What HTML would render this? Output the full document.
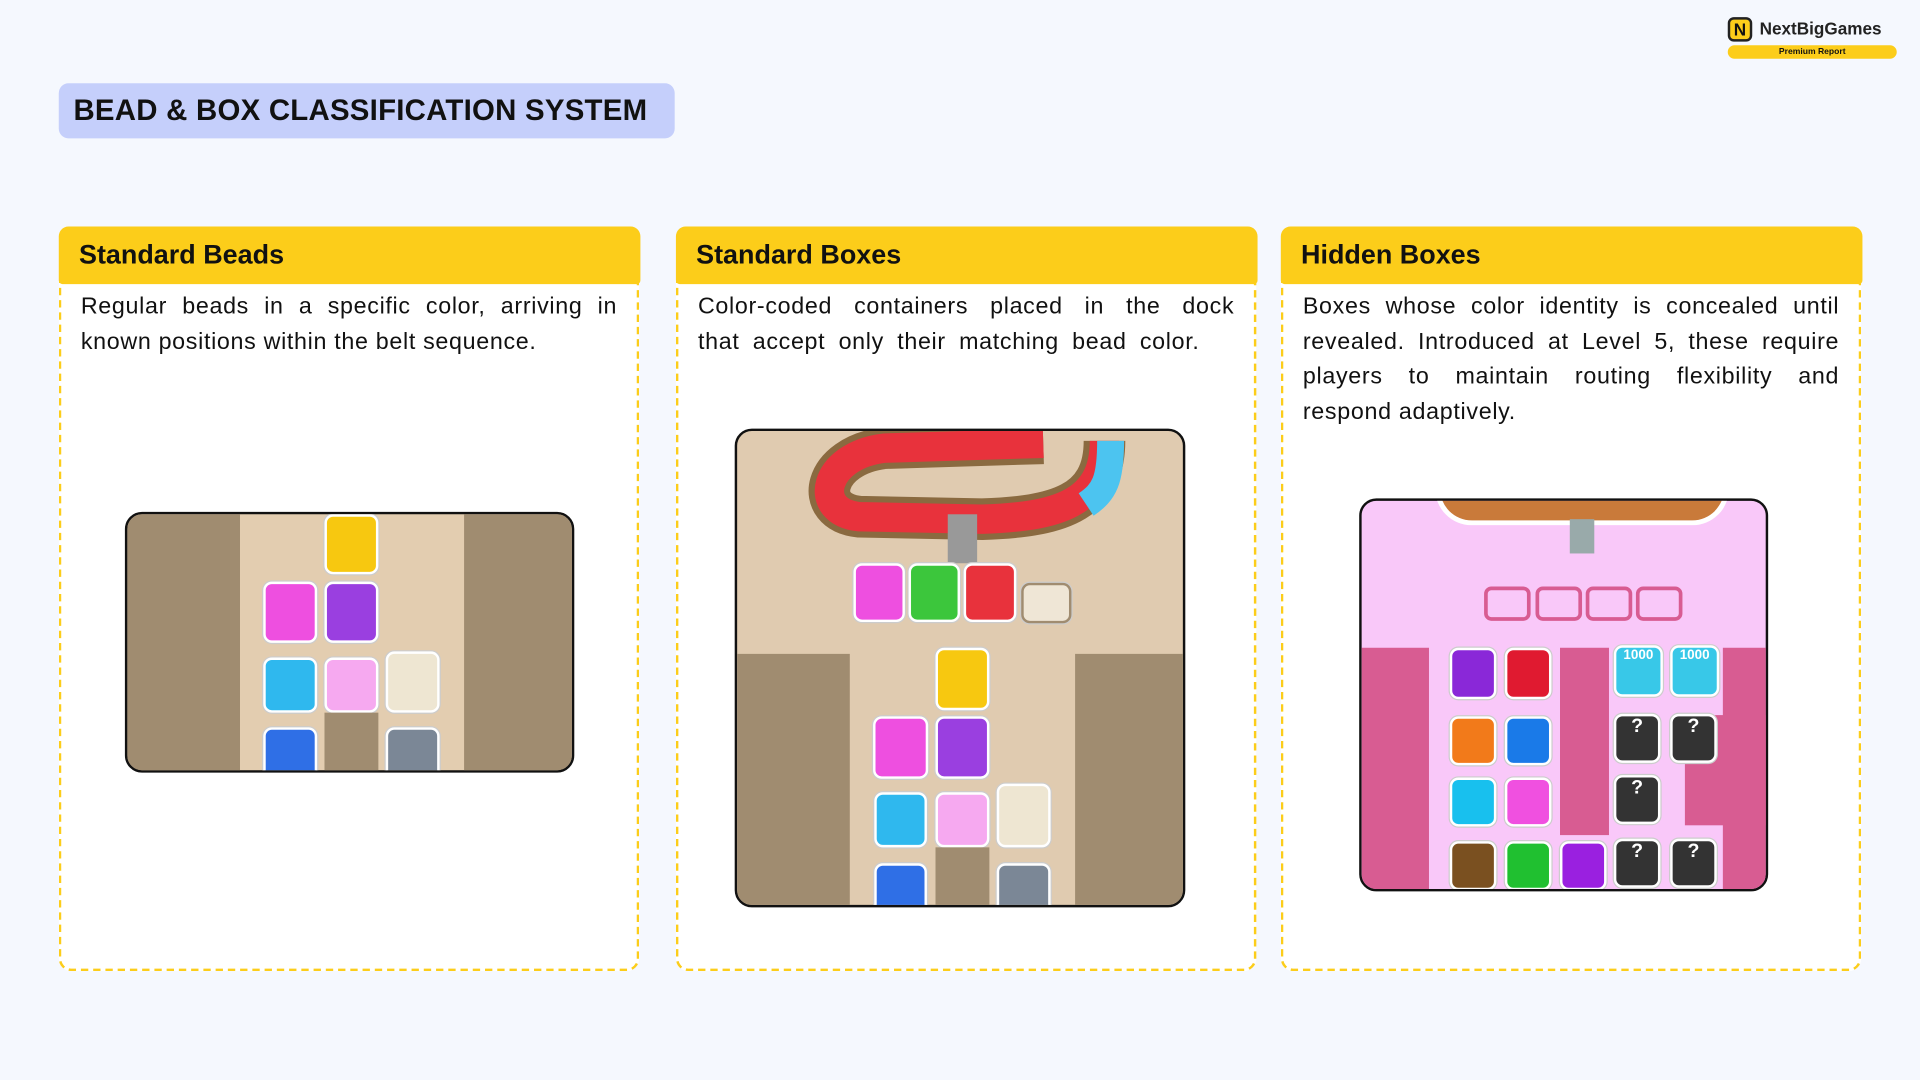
<!DOCTYPE html>
<html><head><meta charset="utf-8"><style>
*{box-sizing:border-box;margin:0;padding:0}
html,body{width:1920px;height:1080px;overflow:hidden;background:#f5f8fe}
#s{position:absolute;left:0;top:0;width:1568px;height:882px;transform:scale(1.22449);transform-origin:0 0;font-family:"Liberation Sans",sans-serif;color:#111}
.a{position:absolute}
.title{left:48px;top:68px;width:503px;height:45px;background:#c5cffb;border-radius:8px;font-weight:bold;font-size:24px;line-height:45px;padding-left:12px;letter-spacing:0.2px}
.card{top:185px;height:608px;width:474px;border:2.5px dashed #fccd1a;border-radius:10px;background:#fff}
.hd{position:absolute;left:-2.5px;top:-2.5px;right:-2.5px;height:47px;background:#fccd1a;border-radius:8px 8px 3px 3px;font-weight:bold;font-size:22px;line-height:46px;padding-left:17px}
.tx{position:absolute;left:16px;right:16px;top:50px;font-size:19px;line-height:28.7px;text-align:justify;letter-spacing:0.55px}
.img{border:2px solid #111;border-radius:14px;overflow:hidden}
.t{position:absolute;border:2px solid #fff;border-radius:7px;box-shadow:0 0 0 1px #ccc}
.b{position:absolute;background:#a08c70}
</style></head><body><div id="s">
<div class="a" style="left:1411px;top:14px;width:20px;height:20px;background:#fccd1a;border:2px solid #222;border-radius:5px;font-weight:bold;font-size:14px;line-height:16px;text-align:center">N</div>
<div class="a" style="left:1437px;top:15px;font-weight:bold;font-size:14px;color:#222">NextBigGames</div>
<div class="a" style="left:1411px;top:37px;width:138px;height:11px;background:#fccd1a;border-radius:6px;font-size:7px;font-weight:bold;text-align:center;line-height:11px">Premium Report</div>
<div class="a title">BEAD &amp; BOX CLASSIFICATION SYSTEM</div>

<div class="a card" style="left:48px"><div class="hd">Standard Beads</div><div class="tx">Regular beads in a specific color, arriving in known positions within the belt sequence.</div></div>
<div class="a card" style="left:552px"><div class="hd">Standard Boxes</div><div class="tx" style="word-spacing:5px">Color-coded containers placed in the dock that accept only their matching bead color.</div></div>
<div class="a card" style="left:1046px"><div class="hd">Hidden Boxes</div><div class="tx" style="letter-spacing:0.56px">Boxes whose color identity is concealed until revealed. Introduced at Level 5, these require players to maintain routing flexibility and respond adaptively.</div></div>

<!-- image 1 -->
<div class="a img" style="left:102px;top:418px;width:367px;height:213px;background:#e3cdb0">
<div class="b" style="left:0;top:0;width:92px;height:213px"></div>
<div class="b" style="left:275px;top:0;width:92px;height:213px"></div>
<div class="t" style="left:161px;top:0;width:44px;height:49px;background:#f7c810"></div>
<div class="t" style="left:111px;top:55px;width:44px;height:50px;background:#ee4fe0"></div>
<div class="t" style="left:161px;top:55px;width:44px;height:50px;background:#9a3fe0"></div>
<div class="t" style="left:111px;top:117px;width:44px;height:45px;background:#2fb8ee"></div>
<div class="t" style="left:161px;top:117px;width:44px;height:45px;background:#f6a9f0"></div>
<div class="t" style="left:211px;top:112px;width:44px;height:50px;background:#eee6d2"></div>
<div class="t" style="left:111px;top:174px;width:44px;height:45px;background:#2f6fe6"></div>
<div class="b" style="left:161px;top:162px;width:44px;height:51px"></div>
<div class="t" style="left:211px;top:174px;width:44px;height:45px;background:#7b8796"></div>
</div>

<!-- image 2 -->
<div class="a img" style="left:600px;top:350px;width:368px;height:391px;background:#e0cbb0">
<svg class="a" style="left:0;top:0" width="368" height="120"><path d="M300 8 C 300 60,260 70,200 72 L 100 70 C 60 66,70 20,120 14 L 250 10" fill="none" stroke="#8a6a40" stroke-width="34"/><path d="M300 8 C 300 60,260 70,200 72 L 100 70 C 60 66,70 20,120 14 L 250 10" fill="none" stroke="#e8323c" stroke-width="24"/><path d="M305 8 C 305 40,300 50,285 60" fill="none" stroke="#4cc4f0" stroke-width="22"/><rect x="172" y="68" width="24" height="40" fill="#999"/></svg>
<div class="t" style="left:95px;top:108px;width:42px;height:48px;background:#ee4fe0"></div>
<div class="t" style="left:140px;top:108px;width:42px;height:48px;background:#3cc63c"></div>
<div class="t" style="left:185px;top:108px;width:43px;height:48px;background:#e8323c"></div>
<div class="t" style="left:232px;top:124px;width:41px;height:33px;background:#efe6d6;border-color:#a08c70"></div>
<div class="b" style="left:0;top:182px;width:92px;height:209px"></div>
<div class="b" style="left:276px;top:182px;width:92px;height:209px"></div>
<div class="t" style="left:162px;top:177px;width:44px;height:51px;background:#f7c810"></div>
<div class="t" style="left:111px;top:233px;width:45px;height:51px;background:#ee4fe0"></div>
<div class="t" style="left:162px;top:233px;width:44px;height:51px;background:#9a3fe0"></div>
<div class="t" style="left:112px;top:295px;width:43px;height:45px;background:#2fb8ee"></div>
<div class="t" style="left:162px;top:295px;width:44px;height:45px;background:#f6a9f0"></div>
<div class="t" style="left:212px;top:288px;width:44px;height:52px;background:#eee6d2"></div>
<div class="t" style="left:112px;top:353px;width:43px;height:45px;background:#2f6fe6"></div>
<div class="b" style="left:162px;top:340px;width:44px;height:51px"></div>
<div class="t" style="left:212px;top:353px;width:44px;height:45px;background:#7b8796"></div>
</div>

<!-- image 3 -->
<div class="a img" style="left:1110px;top:407px;width:334px;height:321px;background:#f9c8f9">
<div class="a" style="left:60px;top:-10px;width:240px;height:30px;background:#c97a3a;border-radius:0 0 40px 40px;border:4px solid #fff"></div>
<div class="a" style="left:170px;top:15px;width:20px;height:28px;background:#9aa"></div>
<div class="a" style="left:100px;top:70px;width:38px;height:28px;border:3px solid #d85c92;border-radius:6px"></div>
<div class="a" style="left:142px;top:70px;width:38px;height:28px;border:3px solid #d85c92;border-radius:6px"></div>
<div class="a" style="left:183px;top:70px;width:38px;height:28px;border:3px solid #d85c92;border-radius:6px"></div>
<div class="a" style="left:224px;top:70px;width:38px;height:28px;border:3px solid #d85c92;border-radius:6px"></div>
<div class="a" style="left:0;top:120px;width:55px;height:201px;background:#d85c92"></div>
<div class="a" style="left:162px;top:120px;width:40px;height:153px;background:#d85c92"></div>
<div class="a" style="left:295px;top:120px;width:39px;height:201px;background:#d85c92"></div>
<div class="a" style="left:264px;top:175px;width:70px;height:90px;background:#d85c92"></div>
<div class="t" style="left:72px;top:120px;width:38px;height:42px;background:#8a28d8"></div>
<div class="t" style="left:117px;top:120px;width:38px;height:42px;background:#e01a30"></div>
<div class="t" style="left:206px;top:118px;width:40px;height:42px;background:#38c8e8;color:#fff;font-size:11px;font-weight:bold;text-align:center">1000</div>
<div class="t" style="left:252px;top:118px;width:40px;height:42px;background:#38c8e8;color:#fff;font-size:11px;font-weight:bold;text-align:center">1000</div>
<div class="t" style="left:72px;top:176px;width:38px;height:40px;background:#f27a1a"></div>
<div class="t" style="left:117px;top:176px;width:38px;height:40px;background:#1a7ae8"></div>
<div class="t" style="left:206px;top:174px;width:38px;height:40px;background:#333;color:#fff;font-weight:bold;text-align:center">?</div>
<div class="t" style="left:252px;top:174px;width:38px;height:40px;background:#333;color:#fff;font-weight:bold;text-align:center">?</div>
<div class="t" style="left:72px;top:226px;width:38px;height:40px;background:#18c0ee"></div>
<div class="t" style="left:117px;top:226px;width:38px;height:40px;background:#f050e0"></div>
<div class="t" style="left:206px;top:224px;width:38px;height:40px;background:#333;color:#fff;font-weight:bold;text-align:center">?</div>
<div class="t" style="left:72px;top:278px;width:38px;height:40px;background:#7a5020"></div>
<div class="t" style="left:117px;top:278px;width:38px;height:40px;background:#20c030"></div>
<div class="t" style="left:162px;top:278px;width:38px;height:40px;background:#9a20e0"></div>
<div class="t" style="left:206px;top:276px;width:38px;height:40px;background:#333;color:#fff;font-weight:bold;text-align:center">?</div>
<div class="t" style="left:252px;top:276px;width:38px;height:40px;background:#333;color:#fff;font-weight:bold;text-align:center">?</div>
</div>
</div></body></html>
